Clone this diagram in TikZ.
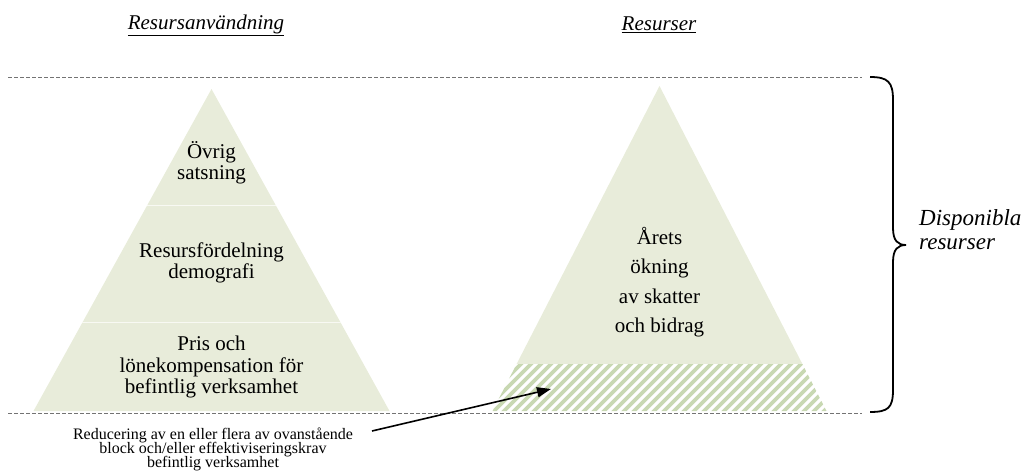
\documentclass[tikz,border=0pt]{standalone}
\usepackage{fontspec}
\setmainfont{Liberation Serif}
\usetikzlibrary{arrows.meta}
\definecolor{pyr}{RGB}{232,236,218}
\definecolor{hatch}{RGB}{200,216,178}
\definecolor{dashgray}{RGB}{115,115,115}
\tikzset{
  guide/.style={draw=dashgray, line width=0.9pt, dash pattern=on 4pt off 2pt},
  bigtxt/.style={inner sep=0pt, align=center, font=\fontsize{21}{21.5}\selectfont},
  ttl/.style={inner sep=0pt, font=\fontsize{21}{21.5}\selectfont\itshape},
  smalltxt/.style={inner sep=0pt, align=center, font=\fontsize{16}{14.4}\selectfont},
  arr/.style={line width=1.6pt, -{Triangle[length=14pt,width=10pt]}},
}
\begin{document}
\lineskiplimit=-100pt\relax
\begin{tikzpicture}[x=1pt,y=-1pt]
\useasboundingbox (0,0) rectangle (1024,473);
% guides
\coordinate (gtl) at (8,77);
\coordinate (gtr) at (862,77);
\coordinate (gbl) at (8,413);
\coordinate (gbr) at (862,413);
\draw[guide] (gtl) -- (gtr);
\draw[guide] (gbl) -- (gbr);
% left pyramid
\fill[pyr] (211.5,89) -- (389.5,411) -- (33.5,411) -- cycle;
\begin{scope}
\clip (211.5,89) -- (389.5,411) -- (33.5,411) -- cycle;
\draw[white, line width=0.8pt, opacity=0.7] (0,205) -- (450,205);
\draw[white, line width=0.8pt, opacity=0.7] (0,322) -- (450,322);
\end{scope}
% right pyramid
\fill[pyr] (659.5,86) -- ({659.5+142.9},364) -- ({659.5-142.9},364) -- cycle;
\begin{scope}
\clip ({659.5-142.9},364) -- ({659.5+142.9},364) -- ({659.5+167},411) -- ({659.5-167},411) -- cycle;
\fill[white] (480,360) rectangle (840,415);
\foreach \i in {0,...,42} {
  \draw[hatch, line width=3.8pt] ({440+10*\i},415) -- ({440+10*\i+55},360);
}
\end{scope}
% texts
\node[bigtxt] (ovr) at (211.5,163) {Övrig\\satsning};
\node[bigtxt] (dem) at (211.5,263) {Resursfördelning\\demografi};
\node[bigtxt] (pris) at (211.5,367) {Pris och\\lönekompensation för\\befintlig verksamhet};
\node[bigtxt, font=\fontsize{21}{29.5}\selectfont] (arets) at (659.5,282) {Årets\\ökning\\av skatter\\och bidrag};
\node[ttl] (t1) at (206,25) {\underline{Resursanvändning}};
\node[ttl] (t2) at (659,25) {\underline{Resurser}};
\node[smalltxt] (note) at (213,449.5) {Reducering av en eller flera av ovanstående\\block och/eller effektiviseringskrav\\befintlig verksamhet};
\node[inner sep=0pt, anchor=west, align=left, font=\fontsize{23}{24}\selectfont\itshape] (disp) at (919,230) {Disponibla\\resurser};
% brace
\draw[line width=1.8pt] (870,77) .. controls (888,77) and (893,82) .. (893,100) -- (893,228) .. controls (893,241) and (898,245) .. (906,245) .. controls (898,245) and (893,249) .. (893,262) -- (893,390) .. controls (893,408) and (888,412) .. (870,412);
% arrow
\coordinate (atail) at (372,431);
\coordinate (ahead) at (551,389);
\draw[arr] (atail) -- (ahead);
\end{tikzpicture}
\end{document}
